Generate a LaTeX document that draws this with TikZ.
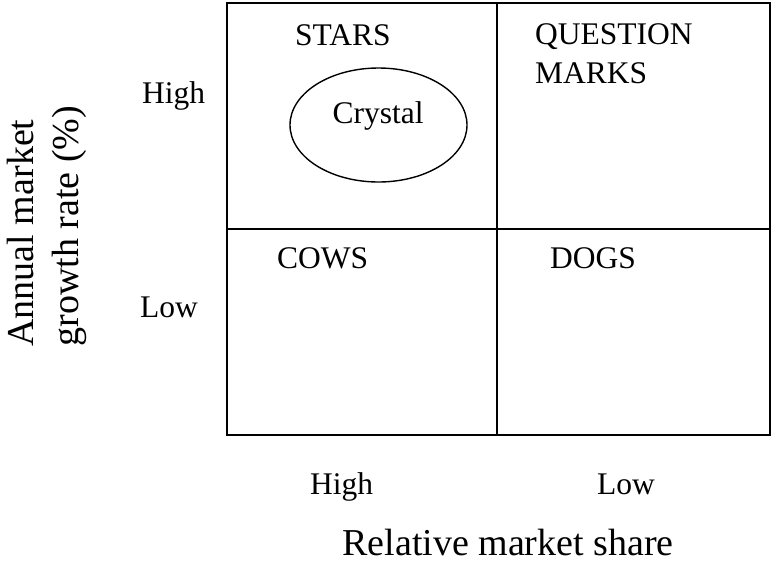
\documentclass[tikz,border=0pt]{standalone}
\usepackage{fontspec}
\setmainfont{Liberation Serif}
\usetikzlibrary{shapes.geometric}

\tikzset{
  lbl/.style={anchor=base west,inner sep=0pt,font=\fontsize{31.5}{39}\selectfont},
  axislbl/.style={anchor=base,inner sep=0pt,font=\fontsize{38}{44}\selectfont},
  grid/.style={line width=2pt},
}

\begin{document}
\begin{tikzpicture}[x=1pt,y=-1pt]
\useasboundingbox (0,0) rectangle (772,566);
% matrix frame
\coordinate (nw) at (227,3); \coordinate (se) at (770,435);
\coordinate (top) at (497,3); \coordinate (bot) at (497,435);
\coordinate (lft) at (227,229); \coordinate (rgt) at (770,229);
\draw[grid] (nw) rectangle (se);
\draw[grid] (top) -- (bot);  \draw[grid] (lft) -- (rgt);
% quadrant names
\node[lbl] (stars) at (295,45) {STARS};
\node[lbl,anchor=north west,align=left] (qmarks) at (535,23) {QUESTION\\MARKS};
\node[lbl] (cows) at (277,268) {COWS};
\node[lbl] (dogs) at (550,268) {DOGS};
% product
\node[draw,ellipse,line width=1.4pt,minimum width=177pt,minimum height=114pt] (crystal) at (378.5,125) {};
\node[lbl,anchor=base] (crystaltxt) at (378,123) {Crystal};
% axes
\node[lbl] (ghigh) at (142,103) {High};
\node[lbl] (glow) at (140,317) {Low};
\node[lbl] (shigh) at (310,494) {High};
\node[lbl] (slow) at (597,494) {Low};
\node[axislbl,rotate=90] (growth1) at (33,233) {Annual market};
\node[axislbl,rotate=90] (growth2) at (78,226) {growth rate (\%)};
\node[axislbl] (share) at (508,555) {Relative market share};
\end{tikzpicture}
\end{document}
